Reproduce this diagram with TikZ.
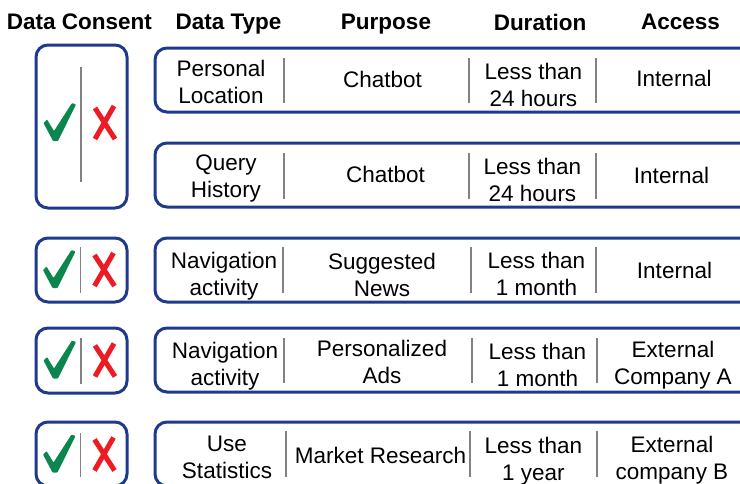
\documentclass[tikz,border=0pt]{standalone}
\usepackage{fontspec}
\setmainfont{Liberation Sans}
\definecolor{boxblue}{RGB}{31,58,140}
\definecolor{okgreen}{RGB}{11,134,78}
\definecolor{nored}{RGB}{237,28,36}
\definecolor{sepgray}{RGB}{130,130,130}
\begin{document}
\begin{tikzpicture}[x=1pt,y=-1pt,
  rbox/.style={draw=boxblue, line width=3pt, rounded corners=12pt},
  sepline/.style={draw=sepgray, line width=1.1pt},
  cell/.style={anchor=north, inner sep=0pt, align=center, font=\fontsize{22.5}{27}\selectfont, text=black},
  head/.style={anchor=north, inner sep=0pt, font=\fontsize{22.5}{27}\selectfont\bfseries, text=black},
  checkmark/.pic={\fill[okgreen, rounded corners=0.8pt] (-15.5,1) -- (-12,-2.5) -- (-5,9) -- (13,-19) -- (17,-17.5) -- (-1,19) -- (-6,19) -- cycle;},
  crossmark/.pic={\draw[nored, line width=5pt] (-9,-15.5) -- (11,15.5) (10,-17.5) -- (-9,15.5);}
]
\useasboundingbox (0,0) rectangle (740,483);
\clip (0,0) rectangle (740,483);
\fill[white] (0,0) rectangle (740,483);

% headers
\node[head] (h1) at (79.5,14) {Data Consent};
\node[head] (h2) at (228.5,14) {Data Type};
\node[head] (h3) at (386,14) {Purpose};
\node[head] (h4) at (540,14) {Duration};
\node[head] (h5) at (680.5,14) {Access};

% consent boxes
\draw[rbox] (36,45) rectangle (127,208);
\draw[rbox] (36,238) rectangle (127,302);
\draw[rbox] (36,328) rectangle (127,393);
\draw[rbox] (36,422) rectangle (127,486);
\draw[sepline] (81,67) -- (81,182);
\draw[sepline] (80.5,247) -- (80.5,293);
\draw[sepline] (81,338) -- (81,384);
\draw[sepline] (80.5,433) -- (80.5,477);
\pic at (59,122) {checkmark};
\pic at (104,123.5) {crossmark};
\pic at (58.5,269) {checkmark};
\pic at (103.5,270.5) {crossmark};
\pic at (59,359.5) {checkmark};
\pic at (104,361) {crossmark};
\pic at (58.5,453.5) {checkmark};
\pic at (103.5,455) {crossmark};

% data boxes
\draw[rbox] (155,48) rectangle (760,112);
\draw[rbox] (155,143) rectangle (760,207);
\draw[rbox] (155,238) rectangle (760,302);
\draw[rbox] (155,328) rectangle (760,392);
\draw[rbox] (155,422) rectangle (760,486);

% separators
\draw[sepline] (284,58) -- (284,103) (469,58) -- (469,103) (596,58) -- (596,103);
\draw[sepline] (284,153) -- (284,199) (469,153) -- (469,199) (596,153) -- (596,199);
\draw[sepline] (283,247) -- (283,293) (471,247) -- (471,293) (596,247) -- (596,293);
\draw[sepline] (284,338) -- (284,383) (472,338) -- (472,383) (597,338) -- (597,383);
\draw[sepline] (286,431) -- (286,477) (470,431) -- (470,477) (597,431) -- (597,477);

% row 1
\node[cell] (r1a) at (221,60) {Personal\\Location};
\node[cell] (r1b) at (382.5,71) {Chatbot};
\node[cell] (r1c) at (533.5,63) {Less than\\24 hours};
\node[cell] (r1d) at (674,70) {Internal};
% row 2
\node[cell] (r2a) at (226,155) {Query\\History};
\node[cell] (r2b) at (385.5,166) {Chatbot};
\node[cell] (r2c) at (532.5,158) {Less than\\24 hours};
\node[cell] (r2d) at (671.5,167) {Internal};
% row 3
\node[cell] (r3a) at (224,252) {Navigation\\activity};
\node[cell] (r3b) at (382,253) {Suggested\\News};
\node[cell] (r3c) at (536.5,252) {Less than\\1 month};
\node[cell] (r3d) at (674.5,262) {Internal};
% row 4
\node[cell] (r4a) at (225,342) {Navigation\\activity};
\node[cell] (r4b) at (382,340) {Personalized\\Ads};
\node[cell] (r4c) at (537.5,343) {Less than\\1 month};
\node[cell] (r4d) at (673,341) {External\\Company A};
% row 5
\node[cell] (r5a) at (227,436) {Use\\Statistics};
\node[cell] (r5b) at (380.5,447) {Market Research};
\node[cell] (r5c) at (533.5,437) {Less than\\1 year};
\node[cell] (r5d) at (672,436) {External\\company B};
\end{tikzpicture}
\end{document}
